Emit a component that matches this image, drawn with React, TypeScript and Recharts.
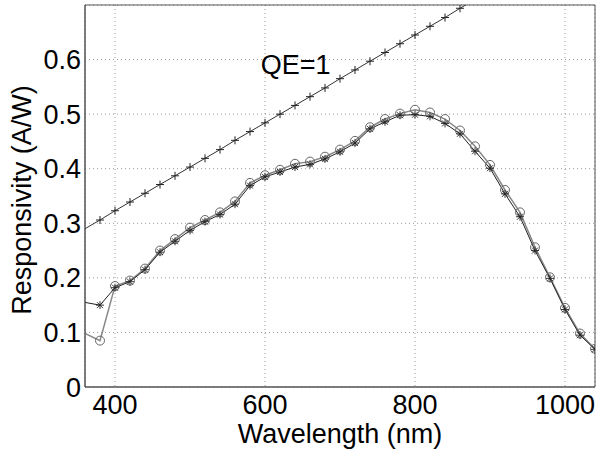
import React from "react"
import {
  ComposedChart,
  Line,
  XAxis,
  YAxis,
  CartesianGrid,
  ReferenceArea,
  ReferenceDot,
} from "recharts"

// wavelength grid (nm)
const wavelengths = [
  360, 380, 400, 420, 440, 460, 480, 500, 520, 540, 560, 580, 600, 620, 640, 660, 680, 700,
  720, 740, 760, 780, 800, 820, 840, 860, 880, 900, 920, 940, 960, 980, 1000, 1020, 1040,
]

// responsivity, "*" markers
const starSeries = [
  0.155, 0.15, 0.182, 0.193, 0.215, 0.247, 0.267, 0.287, 0.303, 0.316, 0.335, 0.369, 0.385,
  0.394, 0.403, 0.408, 0.418, 0.431, 0.447, 0.473, 0.486, 0.498, 0.499, 0.496, 0.483, 0.464,
  0.432, 0.401, 0.354, 0.312, 0.25, 0.199, 0.142, 0.095, 0.069,
]

// responsivity, "o" markers
const circleSeries = [
  0.098, 0.085, 0.185, 0.195, 0.217, 0.25, 0.271, 0.292, 0.306, 0.32, 0.34, 0.374, 0.388,
  0.398, 0.409, 0.413, 0.422, 0.435, 0.451, 0.476, 0.491, 0.501, 0.508, 0.503, 0.491, 0.47,
  0.441, 0.407, 0.361, 0.32, 0.256, 0.201, 0.145, 0.098, 0.07,
]

// ideal QE=1 line, "+" markers
const qeSeries = [
  0.29, 0.306, 0.323, 0.339, 0.355, 0.371, 0.387, 0.403, 0.419, 0.435, 0.452, 0.468, 0.484,
  0.5, 0.516, 0.532, 0.548, 0.565, 0.581, 0.597, 0.613, 0.629, 0.645, 0.661, 0.677, 0.694, 0.71,
]

const xTicks = [400, 600, 800, 1000]
const yTicks = [0, 0.1, 0.2, 0.3, 0.4, 0.5, 0.6]

const data = wavelengths.map((wl, i) => ({
  wl,
  star: starSeries[i],
  circle: circleSeries[i],
  qe: qeSeries[i],
}))

const FONT = "'Liberation Sans', Arial, sans-serif"

const PlusDot = (props: any) => {
  const { cx, cy, payload, index } = props
  if (payload.wl < 380 || payload.qe > 0.7 || cx == null) return <g key={`p${index}`} />
  return (
    <g key={`p${index}`} stroke="#222" strokeWidth={1}>
      <line x1={cx - 4} y1={cy} x2={cx + 4} y2={cy} />
      <line x1={cx} y1={cy - 4} x2={cx} y2={cy + 4} />
    </g>
  )
}

const StarDot = (props: any) => {
  const { cx, cy, payload, index } = props
  if (payload.wl < 380 || cx == null) return <g key={`s${index}`} />
  return (
    <g key={`s${index}`} stroke="#222" strokeWidth={0.9}>
      <line x1={cx - 4} y1={cy} x2={cx + 4} y2={cy} />
      <line x1={cx} y1={cy - 4} x2={cx} y2={cy + 4} />
      <line x1={cx - 3} y1={cy - 3} x2={cx + 3} y2={cy + 3} />
      <line x1={cx - 3} y1={cy + 3} x2={cx + 3} y2={cy - 3} />
    </g>
  )
}

const CircleDot = (props: any) => {
  const { cx, cy, payload, index } = props
  if (payload.wl < 380 || cx == null) return <g key={`c${index}`} />
  return <circle key={`c${index}`} cx={cx} cy={cy} r={4.5} fill="none" stroke="#666" strokeWidth={1} />
}

export default function App() {
  return (
    <div style={{ position: "absolute", left: 0, top: 0, width: 596, height: 454, background: "#fff" }}>
      <ComposedChart width={596} height={454} data={data} margin={{ top: 5, right: 1, bottom: 0, left: 0 }}>
        <CartesianGrid stroke="#999" strokeDasharray="1 3" />
        <XAxis
          dataKey="wl"
          type="number"
          domain={[360, 1040]}
          ticks={xTicks}
          allowDataOverflow
          height={67}
          tickLine={false}
          tickSize={0}
          tickMargin={8}
          axisLine={{ stroke: "#555" }}
          tick={{ fontSize: 27, fill: "#000", fontFamily: FONT }}
          label={{
            content: () => (
              <text x={340} y={443} textAnchor="middle" fontSize={27} fontFamily={FONT} fill="#000">
                Wavelength (nm)
              </text>
            ),
          }}
        />
        <YAxis
          type="number"
          domain={[0, 0.7]}
          ticks={yTicks}
          allowDataOverflow
          width={85}
          tickLine={false}
          tickSize={0}
          tickMargin={4}
          axisLine={{ stroke: "#555" }}
          tickFormatter={(v: number) => (v === 0 ? "0" : v.toFixed(1))}
          tick={{ fontSize: 27, fill: "#000", fontFamily: FONT }}
          label={{
            content: () => (
              <text
                x={22}
                y={200}
                transform="rotate(-90, 22, 200)"
                textAnchor="middle"
                dominantBaseline="central"
                fontSize={27}
                fontFamily={FONT}
                fill="#000"
              >
                Responsivity (A/W)
              </text>
            ),
          }}
        />
        <ReferenceArea x1={360} x2={1040} y1={0} y2={0.7} fill="none" stroke="#555" strokeWidth={1} />
        <Line dataKey="qe" stroke="#333" strokeWidth={1} dot={PlusDot} isAnimationActive={false} connectNulls />
        <Line dataKey="circle" stroke="#888" strokeWidth={1.5} dot={CircleDot} isAnimationActive={false} />
        <Line dataKey="star" stroke="#222" strokeWidth={1} dot={StarDot} isAnimationActive={false} />
        <ReferenceDot
          x={641}
          y={0.592}
          r={0}
          fill="none"
          stroke="none"
          label={{ value: "QE=1", position: "center", fontSize: 27, fill: "#000", fontFamily: FONT }}
        />
      </ComposedChart>
    </div>
  )
}
